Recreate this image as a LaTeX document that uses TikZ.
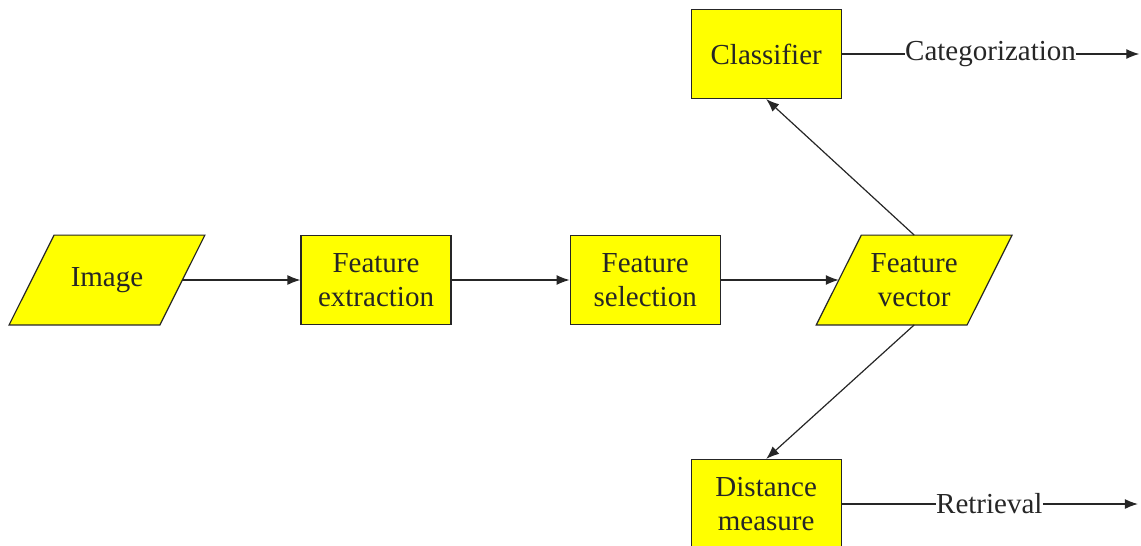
\documentclass[tikz,border=0pt]{standalone}
\usepackage{fontspec}
\setmainfont{Liberation Serif}
\usepackage{xcolor}
\definecolor{boxyellow}{RGB}{255,255,0}
\definecolor{darkgray}{HTML}{262626}
\usetikzlibrary{positioning,arrows.meta,backgrounds}

\begin{document}
\begin{tikzpicture}[node distance = 59pt, font=\fontsize{14.5}{17}\selectfont, text=darkgray,
    process/.style={
        rectangle, minimum width = 75pt, minimum height = 44.5pt, line width = 0.6pt,
        draw = darkgray, fill = boxyellow, align = center},
    data/.style={
        rectangle, minimum width = 75pt, minimum height = 44.5pt, align = center},
    slanted/.style={line width = 0.6pt, draw = darkgray, fill = boxyellow},
    flow/.style={-{Latex[length=6.5pt,width=5pt]}, line width = 0.6pt, draw = darkgray},
    link/.style={line width = 0.6pt, draw = darkgray},
    result/.style={inner sep = 0pt}]
    \useasboundingbox (0,0) rectangle (570.5pt,-273pt);
    \node (img) [data] at (53.5pt,-140pt) {Image};
    \node (fext) [process, right=of img] {Feature\\extraction};
    \node (fsel) [process, right=of fext] {Feature\\selection};
    \node (fvec) [data, right=of fsel] {Feature\\vector};
    \node (cls) [process, above=68pt of fvec.north, xshift=-74pt] {Classifier};
    \node (dist) [process, below=67pt of fvec.south, xshift=-74pt] {Distance\\measure};
    \node (cat) [result, right=31.5pt of cls] {Categorization};
    \node (ret) [result, right=47pt of dist] {Retrieval};
    \coordinate [right=31.5pt of cat] (catend);
    \coordinate [right=47.5pt of ret] (retend);
    % parallelograms behind the data nodes
    \begin{scope}[on background layer]
    \foreach \n in {img,fvec}
        \draw [slanted] ([xshift=-11.25pt]\n.south west) -- ([xshift=11.25pt]\n.north west)
            -- ([xshift=11.25pt]\n.north east) -- ([xshift=-11.25pt]\n.south east) -- cycle;
    \end{scope}
    % main chain
    \draw [flow] (img) -- (fext);
    \draw [flow] (fext) -- (fsel);
    \draw [flow] (fsel) -- (fvec);
    % branches
    \draw [flow] (fvec.north) -- (cls.south);
    \draw [flow] (fvec.south) -- (dist.north);
    \draw [link] (cls) -- (cat);
    \draw [flow] (cat) -- (catend);
    \draw [link] (dist) -- (ret);
    \draw [flow] (ret) -- (retend);
\end{tikzpicture}
\end{document}
